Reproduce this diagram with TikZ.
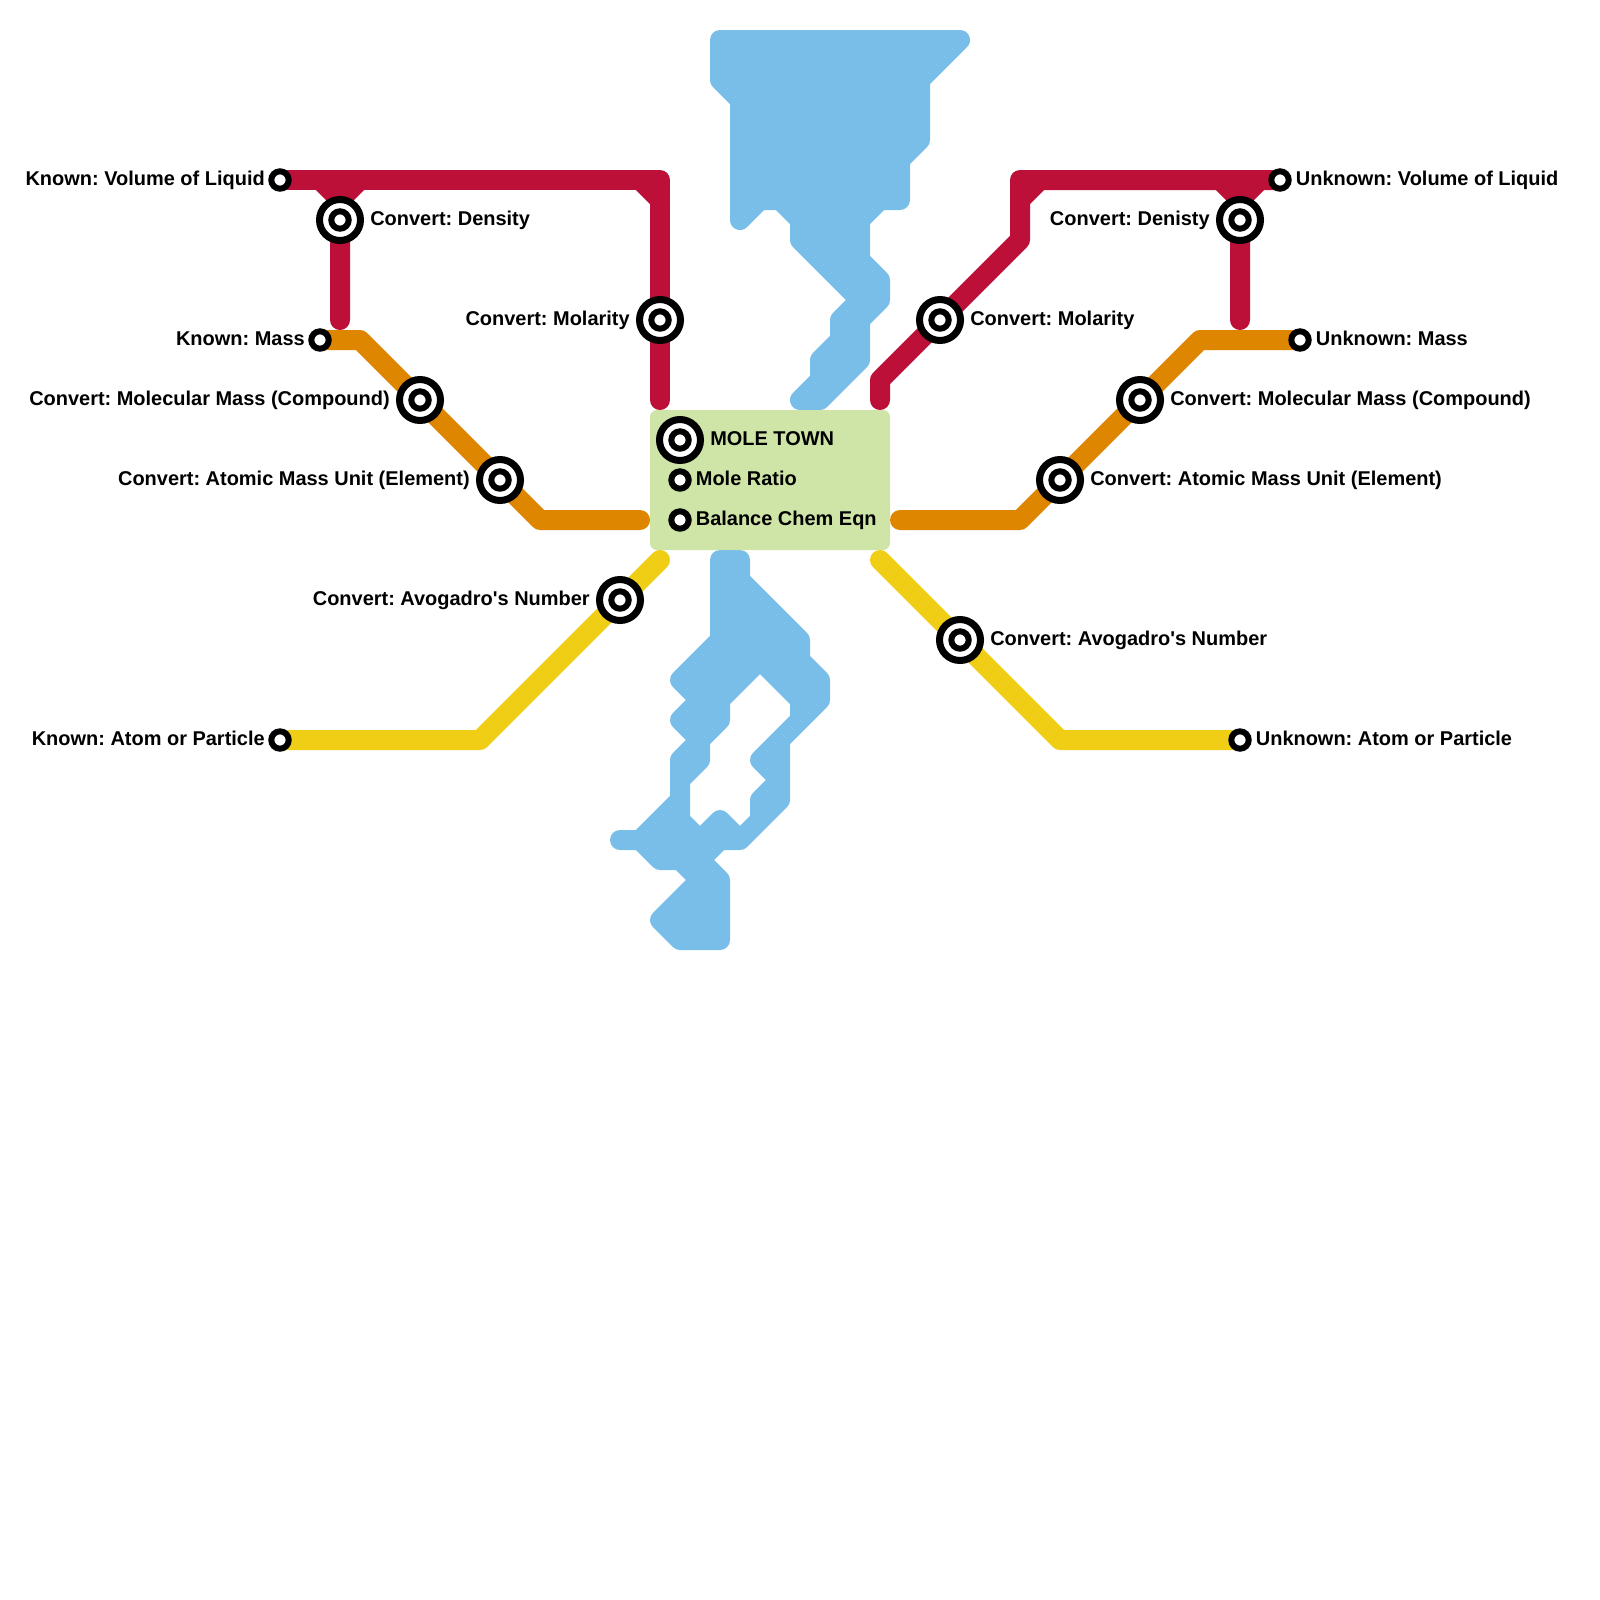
\documentclass[tikz,border=0pt]{standalone}
\usepackage{fontspec}
\usetikzlibrary{backgrounds}
\newfontfamily\stopfont{Liberation Sans}
\frenchspacing
\definecolor{redline}{HTML}{BD1038}
\definecolor{orangeline}{HTML}{DF8600}
\definecolor{yellowline}{HTML}{F0CE15}
\definecolor{riverblue}{HTML}{79BDE9}
\definecolor{townbox}{HTML}{CFE4A7}
\tikzset{
  metro/.style={line width=0.5cm, line cap=round, line join=round},
  stop/.style={circle, draw=black, fill=white, line width=0.15cm, minimum size=0.435cm, inner sep=0pt},
  hub/.style={circle, draw=black, fill=white, line width=0.175cm, minimum size=1.025cm, inner sep=0pt,
    label={[stop]center:}},
  name text/.style={font=\stopfont\bfseries\fontsize{14.2}{17}\selectfont, inner sep=0pt},
  near left/.style={name text, anchor=base east, xshift=-0.375cm, yshift=-0.13cm},
  near right/.style={name text, anchor=base west, xshift=0.39cm, yshift=-0.13cm},
  far left/.style={name text, anchor=base east, xshift=-0.75cm, yshift=-0.13cm},
  far right/.style={name text, anchor=base west, xshift=0.75cm, yshift=-0.13cm},
}
\begin{document}
\begin{tikzpicture}[y=-1cm]

  \useasboundingbox (0,0) rectangle (40,40);

  % Stations
  \node[stop] (volL)  at (7,4.5) {};
  \node[hub]  (densL) at (8.5,5.5) {};
  \node[stop] (massL) at (8,8.5) {};
  \node[hub]  (mmcL)  at (10.5,10) {};
  \node[hub]  (amuL)  at (12.5,12) {};
  \node[hub]  (molL)  at (16.5,8) {};
  \node[hub]  (avoL)  at (15.5,15) {};
  \node[stop] (atomL) at (7,18.5) {};

  \node[stop] (volR)  at (32,4.5) {};
  \node[hub]  (densR) at (31,5.5) {};
  \node[stop] (massR) at (32.5,8.5) {};
  \node[hub]  (mmcR)  at (28.5,10) {};
  \node[hub]  (amuR)  at (26.5,12) {};
  \node[hub]  (molR)  at (23.5,8) {};
  \node[hub]  (avoR)  at (24,16) {};
  \node[stop] (atomR) at (31,18.5) {};

  \node[hub]  (town)  at (17,11) {};
  \node[stop] (ratio) at (17,12) {};
  \node[stop] (chem)  at (17,13) {};

  % Free line ends
  \coordinate (redLend) at (16.5,10);
  \coordinate (redRend) at (22,10);
  \coordinate (denLend) at (8.5,8);
  \coordinate (denRend) at (31,8);
  \coordinate (oraLend) at (16,13);
  \coordinate (oraRend) at (22.5,13);
  \coordinate (yelLend) at (16.5,14);
  \coordinate (yelRend) at (22,14);

  \begin{scope}[on background layer]

    % The river
    \path[metro, draw=riverblue, fill=riverblue, even odd rule]
      (18,1) -- (24,1) -- (23,2) -- (23,3.5) -- (22.5,4) -- (22.5,5) -- (22,5) -- (21.5,5.5)
      -- (21.5,6.5) -- (22,7) -- (22,7.5) -- (21.5,8) -- (21.5,9) -- (20.5,10) -- (20,10)
      -- (20.5,9.5) -- (20.5,9) -- (21,8.5) -- (21,8) -- (21.5,7.5) -- (20,6) -- (20,5.5)
      -- (19.5,5) -- (19,5) -- (18.5,5.5) -- (18.5,2.5) -- (18,2) -- cycle
      (18,14) -- (18.5,14) -- (18.5,14.5) -- (20,16) -- (20,16.5) -- (20.5,17) -- (20.5,17.5)
      -- (19.5,18.5) -- (19.5,20) -- (18.5,21) -- (18,21) -- (17.5,21.5) -- (18,22) -- (18,23.5)
      -- (17,23.5) -- (16.5,23) -- (17.5,22) -- (17,21.5) -- (16.5,21.5) -- (16,21) -- (15.5,21)
      -- (16,21) -- (17,20) -- (17,19) -- (17.5,18.5) -- (17,18) -- (17.5,17.5) -- (17,17)
      -- (18,16) -- cycle
      (19,16.5) -- (20,17.5) -- (20,18) -- (19,19) -- (19.5,19.5) -- (19,20) -- (19,20.5)
      -- (18.5,21) -- (18,20.5) -- (17.5,21) -- (17,20.5) -- (17,19.5) -- (17.5,19)
      -- (17.5,18.5) -- (18,18) -- (18,17.5) -- cycle;

    % Mole town
    \node[fill=townbox, rounded corners=0.175cm, minimum width=6cm, minimum height=3.5cm, inner sep=0pt]
      (moletown) at (19.25,12) {};

    % Lines
    \begin{scope}[metro]
      \draw[redline] (denLend) -- (densL.center) -- (8.5,5) -- (8,4.5) (8.5,5) -- (9,4.5);
      \draw[redline] (volL.center) -- (16.5,4.5) -- (molL.center) -- (redLend);
      \draw[redline] (16,4.5) -- (16.5,5);
      \draw[redline] (redRend) -- (22,9.5) -- (molR.center) -- (25.5,6) -- (25.5,4.5) -- (volR.center);
      \draw[redline] (25.5,5) -- (26,4.5);
      \draw[redline] (denRend) -- (densR.center) -- (31,5) -- (30.5,4.5) (31,5) -- (31.5,4.5);
      \draw[orangeline] (massL.center) -- (9,8.5) -- (mmcL.center) -- (amuL.center) -- (13.5,13) -- (oraLend);
      \draw[orangeline] (oraRend) -- (25.5,13) -- (amuR.center) -- (mmcR.center) -- (30,8.5) -- (massR.center);
      \draw[yellowline] (atomL.center) -- (12,18.5) -- (avoL.center) -- (yelLend);
      \draw[yellowline] (yelRend) -- (avoR.center) -- (26.5,18.5) -- (atomR.center);
    \end{scope}

  \end{scope}

  % Names
  \node[near left]  (volLt)   at (volL)  {Known: Volume of Liquid};
  \node[far right]  (densLt)  at (densL) {Convert: Density};
  \node[near left]  (massLt)  at (massL) {Known: Mass};
  \node[far left]   (mmcLt)   at (mmcL)  {Convert: Molecular Mass (Compound)};
  \node[far left]   (amuLt)   at (amuL)  {Convert: Atomic Mass Unit (Element)};
  \node[far left]   (molLt)   at (molL)  {Convert: Molarity};
  \node[far left]   (avoLt)   at (avoL)  {Convert: Avogadro's Number};
  \node[near left]  (atomLt)  at (atomL) {Known: Atom or Particle};

  \node[near right] (volRt)   at (volR)  {Unknown: Volume of Liquid};
  \node[far left]   (densRt)  at (densR) {Convert: Denisty};
  \node[near right] (massRt)  at (massR) {Unknown: Mass};
  \node[far right]  (mmcRt)   at (mmcR)  {Convert: Molecular Mass (Compound)};
  \node[far right]  (amuRt)   at (amuR)  {Convert: Atomic Mass Unit (Element)};
  \node[far right]  (molRt)   at (molR)  {Convert: Molarity};
  \node[far right]  (avoRt)   at (avoR)  {Convert: Avogadro's Number};
  \node[near right] (atomRt)  at (atomR) {Unknown: Atom or Particle};

  \node[far right]  (townt)   at (town)  {MOLE TOWN};
  \node[near right] (ratiot)  at (ratio) {Mole Ratio};
  \node[near right] (chemt)   at (chem)  {Balance Chem Eqn};

\end{tikzpicture}
\end{document}
